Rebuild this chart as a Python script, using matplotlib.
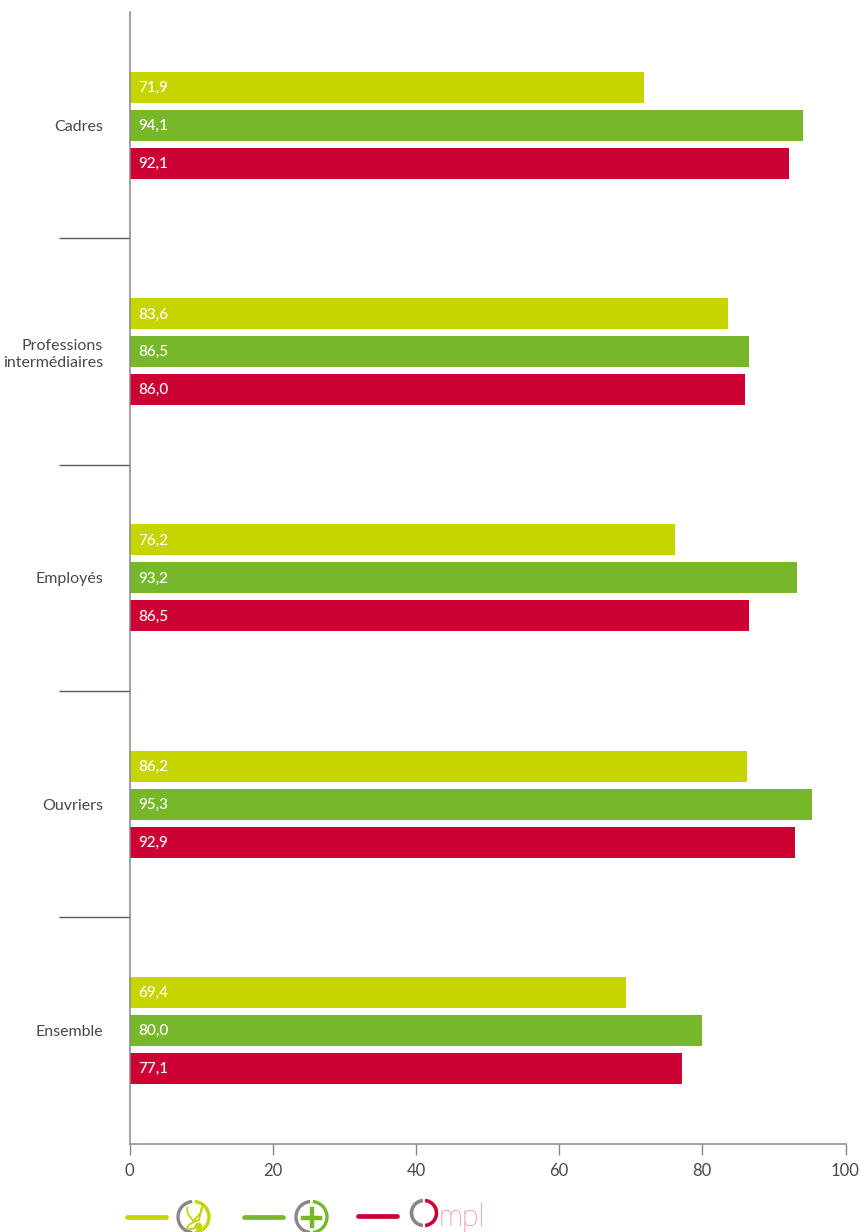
import matplotlib
matplotlib.use("Agg")
import matplotlib.pyplot as plt
from matplotlib.patches import Arc
from matplotlib.ticker import FixedLocator, NullFormatter

categories = ["Cadres", "Professions\nintermédiaires", "Employés", "Ouvriers", "Ensemble"]
series_a = [71.9, 83.6, 76.2, 86.2, 69.4]
series_b = [94.1, 86.5, 93.2, 95.3, 80.0]
series_c = [92.1, 86.0, 86.5, 92.9, 77.1]
x_ticks = [0, 20, 40, 60, 80, 100]
colors = ["#C6D400", "#76B82A", "#CC0033"]
gray = "#8A8685"
dark = "#4A4848"

plt.rcParams["font.family"] = ["Lato", "DejaVu Sans"]
W, H = 861, 1232
fig = plt.figure(figsize=(W / 100, H / 100), dpi=100, facecolor="white")
ax = fig.add_axes([129.5 / W, 1 - 1143.5 / H, 716 / W, 1131.5 / H])
ax.set_xlim(0, 100)
ax.set_ylim(4.5, -0.5)

offset = 38 / 226.5
height = 31 / 226.5
for k, vals in enumerate([series_a, series_b, series_c]):
    for i, v in enumerate(vals):
        y = i + (k - 1) * offset
        ax.barh(y, v, height=height, color=colors[k], zorder=2)
        ax.text(1.25, y + 0.004, f"{v:.1f}".replace(".", ","), color="white",
                fontsize=11, fontweight="medium", va="center", ha="left", zorder=3)

for s in ["top", "right"]:
    ax.spines[s].set_visible(False)
for s in ["left", "bottom"]:
    ax.spines[s].set_color(gray)
    ax.spines[s].set_linewidth(1.1)
ax.set_xticks(x_ticks)
ax.tick_params(axis="x", length=8, width=1, color=gray, labelcolor=dark, labelsize=12, pad=6)
ax.set_yticks(range(len(categories)))
ax.set_yticklabels(categories, fontsize=11.5, color=dark, linespacing=1.25)
ax.tick_params(axis="y", which="major", length=0, pad=19)
ax.yaxis.set_minor_locator(FixedLocator([0.5, 1.5, 2.5, 3.5]))
ax.yaxis.set_minor_formatter(NullFormatter())
ax.tick_params(axis="y", which="minor", length=51, width=1, color="#5A5858")

# Legend drawn in pixel coordinates
lg = fig.add_axes([0, 0, 1, 1], facecolor="none")
lg.set_xlim(0, W)
lg.set_ylim(H, 0)
lg.axis("off")
for (x0, x1, y, c) in [(127, 166, 1217, colors[0]), (244, 283, 1217, colors[1]), (358, 397, 1216, colors[2])]:
    lg.plot([x0, x1], [y, y], color=c, lw=3.4, solid_capstyle="round")

def ring(cx, cy, r, c):
    lg.add_patch(Arc((cx, cy), 2 * r, 2 * r, theta1=95, theta2=265, color=gray, lw=2.4))
    lg.add_patch(Arc((cx, cy), 2 * r, 2 * r, theta1=-85, theta2=85, color=c, lw=2.4))

ring(193.5, 1217, 15.5, colors[0])
ring(311.5, 1217, 15.5, colors[1])
# stethoscope glyph
lg.plot([187, 188, 193, 198, 201, 202, 199, 194, 190, 187, 188, 193, 197, 200],
        [1208, 1214, 1221, 1216, 1212, 1207, 1220, 1222, 1224, 1227, 1229, 1229, 1226, 1226],
        color=colors[0], lw=1.3)
lg.plot([198], [1226], marker="o", ms=4.5, color=colors[0])
# plus glyph
lg.plot([303, 320], [1218, 1218], color=colors[1], lw=3.2)
lg.plot([311.5, 311.5], [1209, 1226], color=colors[1], lw=3.2)
# Ompl logo
lg.add_patch(Arc((424, 1213), 25, 25, theta1=95, theta2=265, color=gray, lw=2.6))
lg.add_patch(Arc((424, 1213), 25, 25, theta1=-85, theta2=85, color=colors[2], lw=2.6))
lg.text(438, 1226, "mpl", color=colors[2], fontsize=22, va="baseline", ha="left", fontweight="light")

fig.savefig("out.png", dpi=100, facecolor="white")
